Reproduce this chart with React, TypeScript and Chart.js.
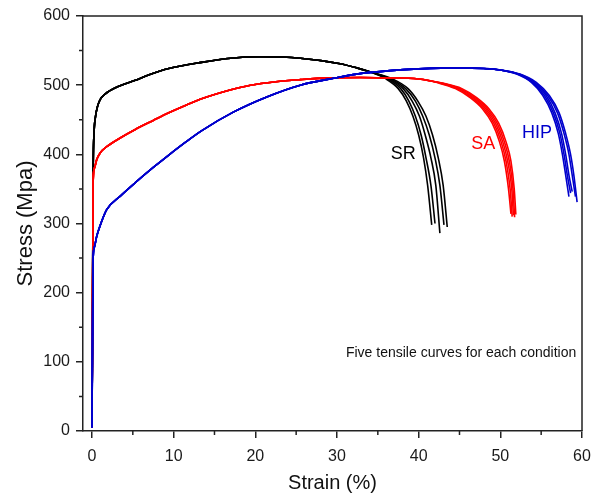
import React, { useEffect, useRef } from "react";
import { Chart, registerables } from "chart.js";

Chart.register(...registerables);

// ---- Data (strain %, stress MPa) ----
const xTickValues = [0, 10, 20, 30, 40, 50, 60];
const xMinorValues = [5, 15, 25, 35, 45, 55];
const yTickValues = [0, 100, 200, 300, 400, 500, 600];
const yMinorValues = [50, 150, 250, 350, 450, 550];

// SR (black) shared part, then five necking tails
const srBase: number[][] = [
  [0, 5], [0.05, 120], [0.1, 270], [0.15, 380], [0.25, 430], [0.4, 452], [0.7, 470],
  [1.0, 479], [1.6, 487], [3.0, 497], [5.3, 507], [7.0, 515], [9.4, 524], [13.4, 533],
  [17.0, 539], [20.5, 541], [25.5, 539], [30.4, 531], [32.4, 525], [34.1, 519],
];
const srTail1: number[][] = [[34.1, 519], [36.0, 509], [37.5, 495], [38.5, 477], [39.3, 455], [40.0, 428], [40.6, 395], [41.1, 355], [41.6, 298]];
const srTail2: number[][] = [[34.1, 519], [36.2, 509], [37.8, 495], [38.8, 477], [39.6, 455], [40.3, 428], [40.9, 395], [41.5, 355], [42.0, 300]];
const srTail3: number[][] = [[34.1, 519], [36.4, 509], [38.1, 495], [39.2, 477], [40.1, 455], [40.8, 428], [41.5, 395], [42.1, 355], [42.6, 286]];
const srTail4: number[][] = [[34.1, 519], [36.6, 509], [38.4, 495], [39.6, 477], [40.5, 455], [41.3, 428], [42.0, 395], [42.6, 355], [43.1, 298]];
const srTail5: number[][] = [[34.1, 519], [36.8, 509], [38.7, 495], [39.9, 477], [40.9, 455], [41.7, 428], [42.4, 395], [43.0, 355], [43.5, 295]];

// SA (red)
const saBase: number[][] = [
  [0, 5], [0.05, 120], [0.1, 260], [0.15, 363], [0.3, 380], [0.57, 392], [1.0, 402],
  [1.8, 411], [3.5, 424], [5.3, 436], [7.5, 449], [9.4, 460], [11.5, 471], [13.6, 481],
  [16.9, 493], [19.4, 500], [22.5, 505], [25.5, 508], [29.0, 510.5], [32.8, 511],
  [36.0, 510.5], [40.0, 509],
];
const saTail1: number[][] = [[40.0, 509], [42.5, 503], [44.5, 495], [46.3, 482], [47.8, 466], [49.0, 445], [49.9, 418], [50.5, 390], [51.0, 350], [51.3, 314]];
const saTail2: number[][] = [[40.0, 509], [42.6, 503], [44.7, 495], [46.5, 482], [48.0, 466], [49.2, 445], [50.1, 418], [50.7, 390], [51.2, 350], [51.45, 310]];
const saTail3: number[][] = [[40.0, 509], [42.7, 503], [44.9, 495], [46.7, 482], [48.2, 466], [49.4, 445], [50.3, 418], [50.9, 390], [51.4, 350], [51.6, 312]];
const saTail4: number[][] = [[40.0, 509], [42.8, 503], [45.1, 495], [46.9, 482], [48.4, 466], [49.6, 445], [50.5, 418], [51.1, 390], [51.55, 350], [51.75, 309]];
const saTail5: number[][] = [[40.0, 509], [42.9, 503], [45.3, 495], [47.1, 482], [48.6, 466], [49.8, 445], [50.7, 418], [51.3, 390], [51.7, 350], [51.9, 313]];

// HIP (blue)
const hipBase: number[][] = [
  [0, 5], [0.05, 100], [0.1, 200], [0.15, 252], [0.3, 266], [0.57, 281], [1.0, 297],
  [1.8, 320], [3.5, 340], [5.3, 359], [7.5, 381], [9.4, 399], [11.5, 418], [13.4, 434],
  [17.3, 461], [21.4, 483], [25.5, 500], [29.6, 510], [32.4, 516], [36.5, 521],
  [40.0, 523.5], [45.0, 525], [48.0, 524], [50.0, 522],
];
const hipTail1: number[][] = [[50.0, 522], [52.0, 516], [53.8, 504], [55.2, 485], [56.3, 460], [57.1, 430], [57.6, 400], [58.0, 370], [58.4, 339]];
const hipTail2: number[][] = [[50.0, 522], [52.1, 516], [53.9, 504], [55.4, 485], [56.5, 460], [57.3, 430], [57.8, 400], [58.2, 370], [58.6, 344]];
const hipTail3: number[][] = [[50.0, 522], [52.2, 516], [54.0, 504], [55.6, 485], [56.7, 460], [57.5, 430], [58.0, 400], [58.4, 370], [58.8, 346]];
const hipTail4: number[][] = [[50.0, 522], [52.3, 516], [54.2, 504], [55.8, 485], [57.0, 460], [57.8, 430], [58.4, 400], [58.8, 370], [59.2, 339]];
const hipTail5: number[][] = [[50.0, 522], [52.4, 516], [54.4, 504], [56.0, 485], [57.2, 460], [58.0, 430], [58.6, 400], [59.0, 370], [59.4, 331]];

const conditions = [
  { name: "HIP", color: "#0000cc", base: hipBase, tails: [hipTail1, hipTail2, hipTail3, hipTail4, hipTail5], label: [54.5, 431] },
  { name: "SA", color: "#ff0000", base: saBase, tails: [saTail1, saTail2, saTail3, saTail4, saTail5], label: [47.9, 415] },
  { name: "SR", color: "#000000", base: srBase, tails: [srTail1, srTail2, srTail3, srTail4, srTail5], label: [38.1, 400] },
];
const noteText = "Five tensile curves for each condition";

const FONT = 'Arial, "Liberation Sans", sans-serif';
const AXIS_COLOR = "#222222";

export default function App() {
  const ref = useRef<HTMLCanvasElement | null>(null);

  useEffect(() => {
    if (!ref.current) return;
    const datasets: any[] = [];
    conditions.forEach((c, ci) => {
      c.tails.forEach((t, ti) => {
        const pts = [...c.base, ...t.slice(1)].map((p) => ({ x: p[0], y: p[1] }));
        datasets.push({
          label: `${c.name} ${ti + 1}`,
          data: pts,
          borderColor: c.color,
          backgroundColor: c.color,
          borderWidth: 1.6,
          pointRadius: 0,
          cubicInterpolationMode: "monotone",
          order: ci,
          fill: false,
        });
      });
    });

    const extras = {
      id: "extras",
      afterDraw(chart: any) {
        const { ctx, chartArea } = chart;
        const xs = chart.scales.x;
        const ys = chart.scales.y;
        ctx.save();
        ctx.strokeStyle = AXIS_COLOR;
        ctx.lineWidth = 1.5;
        ctx.beginPath();
        ctx.moveTo(chartArea.left, chartArea.top);
        ctx.lineTo(chartArea.right, chartArea.top);
        ctx.lineTo(chartArea.right, chartArea.bottom);
        ctx.stroke();
        ctx.beginPath();
        xMinorValues.forEach((v) => {
          const px = xs.getPixelForValue(v);
          ctx.moveTo(px, chartArea.bottom);
          ctx.lineTo(px, chartArea.bottom + 4);
        });
        yMinorValues.forEach((v) => {
          const py = ys.getPixelForValue(v);
          ctx.moveTo(chartArea.left, py);
          ctx.lineTo(chartArea.left - 4, py);
        });
        ctx.stroke();

        ctx.textAlign = "center";
        ctx.textBaseline = "middle";
        ctx.font = `18px ${FONT}`;
        conditions.forEach((c) => {
          ctx.fillStyle = c.color;
          ctx.fillText(c.name, xs.getPixelForValue(c.label[0]), ys.getPixelForValue(c.label[1]));
        });
        ctx.fillStyle = "#111111";
        ctx.font = `14px ${FONT}`;
        ctx.textAlign = "right";
        ctx.fillText(noteText, xs.getPixelForValue(59.3), ys.getPixelForValue(112));
        ctx.restore();
      },
    };

    const chart = new Chart(ref.current, {
      type: "line",
      data: { datasets },
      options: {
        animation: false,
        responsive: false,
        layout: { padding: { top: 16, right: 18, left: 0, bottom: 0 } },
        plugins: { legend: { display: false }, tooltip: { enabled: false } },
        scales: {
          x: {
            type: "linear",
            min: -1.1,
            max: 60,
            afterBuildTicks: (s: any) => {
              s.ticks = xTickValues.map((v) => ({ value: v }));
            },
            afterFit: (s: any) => {
              s.height = 65;
            },
            grid: { display: true, drawOnChartArea: false, drawTicks: true, tickLength: 7, color: AXIS_COLOR, lineWidth: 1.5 },
            border: { display: true, color: AXIS_COLOR, width: 1.5 },
            ticks: { color: "#1a1a1a", font: { family: FONT, size: 16 }, padding: 9, maxRotation: 0 },
            title: { display: true, text: "Strain (%)", color: "#111111", font: { family: FONT, size: 20 }, padding: { top: 0, bottom: 1 } },
          },
          y: {
            type: "linear",
            min: 0,
            max: 600,
            afterBuildTicks: (s: any) => {
              s.ticks = yTickValues.map((v) => ({ value: v }));
            },
            afterFit: (s: any) => {
              s.width = 83;
            },
            grid: { display: true, drawOnChartArea: false, drawTicks: true, tickLength: 7, color: AXIS_COLOR, lineWidth: 1.5 },
            border: { display: true, color: AXIS_COLOR, width: 1.5 },
            ticks: { color: "#1a1a1a", font: { family: FONT, size: 16 }, padding: 6 },
            title: { display: true, text: "Stress (Mpa)", color: "#111111", font: { family: FONT, size: 22 }, padding: { top: 13, bottom: 0 } },
          },
        },
      },
      plugins: [extras],
    } as any);
    return () => chart.destroy();
  }, []);

  return (
    <div style={{ position: "fixed", left: 0, top: 0, width: 600, height: 496, background: "#fff" }}>
      <canvas ref={ref} width={600} height={496} style={{ display: "block" }} />
    </div>
  );
}
